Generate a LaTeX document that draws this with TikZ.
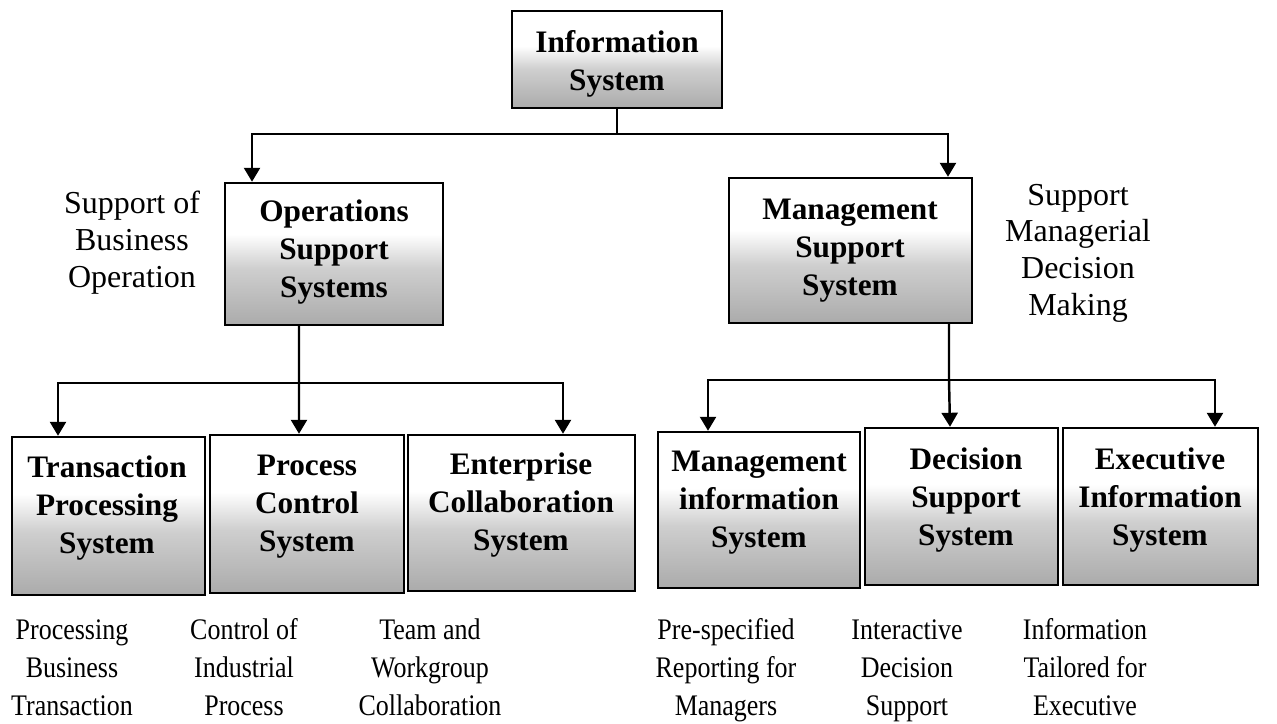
\documentclass[tikz,border=0pt]{standalone}
\usepackage{fontspec}
\setmainfont{Liberation Serif}
\newfontfamily\narrowserif[FakeStretch=0.87]{Liberation Serif}
\usetikzlibrary{arrows.meta}

% white at the top of a box, fading into grey towards its bottom edge
\pgfdeclareverticalshading{boxfade}{100bp}{%
  color(0bp)=(black!33); color(25bp)=(black!33); color(45bp)=(black!19);
  color(57bp)=(white); color(75bp)=(white); color(100bp)=(white)}

\tikzset{
  sysbox/.style={draw, line width=1.4pt, shade, shading=boxfade, inner sep=0pt},
  boxtext/.style={align=center, inner sep=0pt, font=\fontsize{17.8}{21.5}\selectfont\bfseries},
  sidenote/.style={align=center, inner sep=0pt, font=\fontsize{18.2}{21}\selectfont},
  roletext/.style={align=center, inner sep=0pt, font=\narrowserif\fontsize{17}{21.8}\selectfont},
  link/.style={line width=1.4pt},
  arr/.style={link, -{Triangle[width=0.32cm,length=0.28cm]}},
}

\begin{document}
\begin{tikzpicture}[x=0.02cm, y=-0.02cm]
\useasboundingbox (0,0) rectangle (1277,723);

% ---- boxes ----
\node[sysbox, minimum width=4.2cm,  minimum height=1.94cm] (top)  at (617,59.5) {};
\node[sysbox, minimum width=4.36cm, minimum height=2.84cm] (ops)  at (334,254) {};
\node[sysbox, minimum width=4.86cm, minimum height=2.9cm]  (mgmt) at (850.5,250.5) {};

\node[sysbox, minimum width=3.86cm, minimum height=3.16cm] (tps) at (108.5,516) {};
\node[sysbox, minimum width=3.88cm, minimum height=3.16cm] (pcs) at (307,514) {};
\node[sysbox, minimum width=4.54cm, minimum height=3.12cm] (ecs) at (521.5,513) {};
\node[sysbox, minimum width=4.04cm, minimum height=3.12cm] (mis) at (759,510) {};
\node[sysbox, minimum width=3.86cm, minimum height=3.14cm] (dss) at (961.5,506.5) {};
\node[sysbox, minimum width=3.9cm,  minimum height=3.14cm] (eis) at (1160.5,506.5) {};

% ---- box titles ----
\node[boxtext] (top-t)  at (617,64)  {\strut Information\\System\strut};
\node[boxtext] (ops-t)  at (334,252) {\strut Operations\\Support\\Systems\strut};
\node[boxtext] (mgmt-t) at (850,250) {\strut Management\\Support\\System\strut};
\node[boxtext] (tps-t)  at (107,508) {\strut Transaction\\Processing\\System\strut};
\node[boxtext] (pcs-t)  at (307,506) {\strut Process\\Control\\System\strut};
\node[boxtext] (ecs-t)  at (521,505) {\strut Enterprise\\Collaboration\\System\strut};
\node[boxtext] (mis-t)  at (759,502) {\strut Management\\information\\System\strut};
\node[boxtext] (dss-t)  at (966,500) {\strut Decision\\Support\\System\strut};
\node[boxtext] (eis-t)  at (1160,500) {\strut Executive\\Information\\System\strut};

% ---- side notes ----
\node[sidenote] (ops-n)  at (132,243)  {\strut Support of\\Business\\Operation\strut};
\node[sidenote] (mgmt-n) at (1078,253) {\strut Support\\Managerial\\Decision\\Making\strut};

% ---- roles under the bottom row ----
\node[roletext] (tps-r) at (72,670)   {\strut Processing\\Business\\Transaction\strut};
\node[roletext] (pcs-r) at (244,670)  {\strut Control of\\Industrial\\Process\strut};
\node[roletext] (ecs-r) at (430,670)  {\strut Team and\\Workgroup\\Collaboration\strut};
\node[roletext] (mis-r) at (726,670)  {\strut Pre-specified\\Reporting for\\Managers\strut};
\node[roletext] (dss-r) at (907,670)  {\strut Interactive\\Decision\\Support\strut};
\node[roletext] (eis-r) at (1085,670) {\strut Information\\Tailored for\\Executive\strut};

% ---- connectors ----
\draw[arr] (top.south) -- ++(0,25) -| ([xshift=-1.64cm]ops.north);
\draw[arr] (top.south) -- ++(0,25) -| ([xshift=1.95cm]mgmt.north);

\coordinate (jo) at (299,383);
\draw[link] ([xshift=-0.7cm]ops.south) -- (jo);
\draw[arr] (jo) -| ([xshift=-1.01cm]tps.north);
\draw[arr] (jo) -- ([xshift=-0.16cm]pcs.north);
\draw[arr] (jo) -| ([xshift=0.83cm]ecs.north);

\coordinate (jm) at (949,380);
\draw[link] ([xshift=1.97cm]mgmt.south) -- (jm);
\draw[arr] (jm) -| ([xshift=-1.02cm]mis.north);
\draw[arr] (jm) -- ([xshift=-0.23cm]dss.north);
\draw[arr] (jm) -| ([xshift=1.09cm]eis.north);
\end{tikzpicture}
\end{document}
